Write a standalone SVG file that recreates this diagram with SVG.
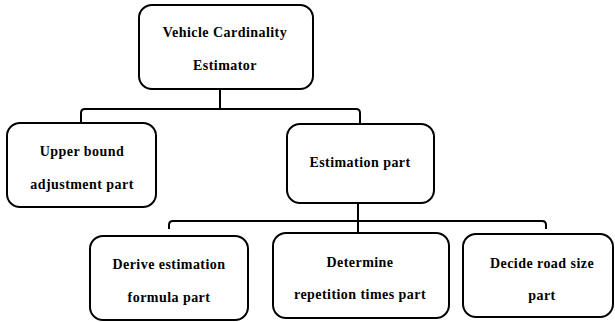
<svg xmlns="http://www.w3.org/2000/svg" width="615" height="322" viewBox="0 0 615 322">
  <style>
    .box { fill: #ffffff; stroke: #000000; stroke-width: 2; }
    .wire { fill: none; stroke: #000000; stroke-width: 2; stroke-linejoin: round; }
    .label { font-family: 'Liberation Serif', 'DejaVu Serif', serif; font-weight: 700; font-size: 14px; fill: #000000; text-anchor: middle; letter-spacing: 0.45px; }
  </style>
  <rect width="615" height="322" fill="#ffffff"/>

  <!-- tree connectors -->
  <g id="connectors">
    <path class="wire" d="M220,89 V109"/>
    <path class="wire" d="M81,122 V113 Q81,109 85,109 H356 Q360,109 360,113 V124"/>
    <path class="wire" d="M358,203 V233"/>
    <path class="wire" d="M169,229 V225 Q169,221 173,221 H542 Q546,221 546,225 V229"/>
  </g>

  <g id="root">
    <rect class="box" x="139" y="5" width="174" height="84" rx="13"/>
    <text class="label" x="225" y="37">Vehicle Cardinality</text>
    <text class="label" x="225" y="70">Estimator</text>
  </g>

  <g id="upper-bound">
    <rect class="box" x="7" y="123" width="149" height="84" rx="13"/>
    <text class="label" x="82" y="156">Upper bound</text>
    <text class="label" x="82" y="189">adjustment part</text>
  </g>

  <g id="estimation">
    <rect class="box" x="287" y="124" width="147" height="79" rx="13"/>
    <text class="label" x="360" y="167">Estimation part</text>
  </g>

  <g id="derive">
    <rect class="box" x="90" y="236" width="158" height="84" rx="13"/>
    <text class="label" x="169" y="269">Derive estimation</text>
    <text class="label" x="169" y="302">formula part</text>
  </g>

  <g id="determine">
    <rect class="box" x="273" y="233" width="176" height="85" rx="13"/>
    <text class="label" x="360" y="267">Determine</text>
    <text class="label" x="360" y="299">repetition times part</text>
  </g>

  <g id="decide">
    <rect class="box" x="463" y="234" width="150" height="83" rx="13"/>
    <text class="label" x="542" y="268">Decide road size</text>
    <text class="label" x="542" y="300">part</text>
  </g>
</svg>
